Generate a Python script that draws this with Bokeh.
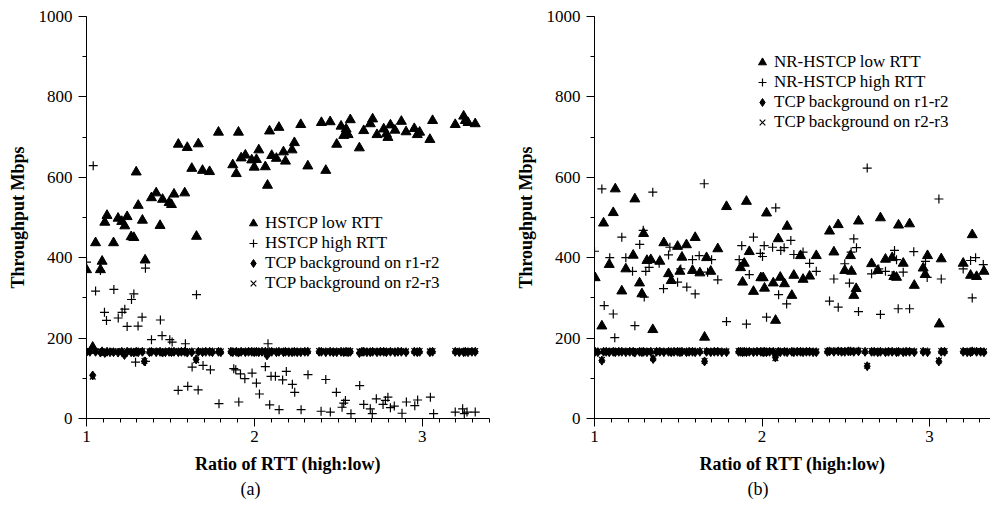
from bokeh.plotting import figure
from bokeh.models import Legend, LegendItem, Title, SingleIntervalTicker, Range1d
from bokeh.layouts import row
from bokeh.embed import file_html
from bokeh.resources import INLINE

FONT = "Liberation Serif"

# ---------------- panel (a): HSTCP ----------------
a_low = [(1.000,370),(1.037,177),(1.054,437),(1.083,370),(1.093,391),(1.109,488),(1.122,505),(1.161,437),
         (1.188,498),(1.210,490),(1.228,479),(1.242,502),(1.266,452),(1.282,450),(1.296,613),(1.308,530),
         (1.333,493),(1.349,394),(1.387,549),(1.415,561),(1.438,480),(1.453,545),(1.492,537),(1.506,532),
         (1.521,558),(1.547,682),(1.585,561),(1.600,674),(1.627,622),(1.655,453),(1.666,683),(1.691,617),
         (1.733,614),(1.786,712),(1.871,631),(1.892,609),(1.905,712),(1.921,648),(1.946,655),(1.984,643),
         (1.999,625),(2.012,644),(2.026,668),(2.065,626),(2.078,580),(2.090,715),(2.103,654),(2.131,647),
         (2.146,724),(2.173,663),(2.185,640),(2.224,668),(2.238,686),(2.276,731),(2.318,628),(2.399,736),
         (2.425,617),(2.451,738),(2.490,682),(2.516,727),(2.532,704),(2.546,720),(2.558,706),(2.571,743),
         (2.625,673),(2.651,716),(2.690,733),(2.704,745),(2.730,706),(2.770,720),(2.786,708),(2.795,699),
         (2.810,730),(2.837,717),(2.875,739),(2.903,713),(2.952,721),(2.970,706),(2.984,712),(3.045,694),
         (3.061,741),(3.196,731),(3.246,752),(3.256,741),(3.272,736),(3.315,733)]

a_high = [(1.000,389),(1.040,629),(1.054,317),(1.083,368),(1.107,264),(1.119,244),(1.163,321),(1.189,250),
          (1.212,264),(1.228,272),(1.242,229),(1.268,296),(1.282,310),(1.292,140),(1.307,230),(1.331,252),
          (1.351,374),(1.351,142),(1.387,196),(1.440,245),(1.450,206),(1.496,196),(1.510,190),(1.546,70),
          (1.589,186),(1.603,80),(1.629,128),(1.655,308),(1.665,71),(1.694,132),(1.738,121),(1.789,37),
          (1.877,124),(1.889,121),(1.907,41),(1.917,111),(1.943,99),(1.986,113),(2.012,88),(2.030,61),
          (2.065,129),(2.081,186),(2.091,34),(2.099,105),(2.125,105),(2.147,22),(2.168,96),(2.190,117),
          (2.226,85),(2.240,65),(2.278,22),(2.319,109),(2.397,18),(2.425,97),(2.452,16),(2.488,65),
          (2.522,28),(2.532,38),(2.542,45),(2.575,12),(2.627,82),(2.651,35),(2.690,24),(2.702,12),
          (2.726,49),(2.766,35),(2.780,45),(2.795,53),(2.810,27),(2.833,31),(2.879,13),(2.905,41),
          (2.955,32),(2.972,46),(3.048,53),(3.067,12),(3.196,16),(3.240,24),(3.250,12),(3.266,16),(3.315,16)]

# (ratio, TCP r1-r2, TCP r2-r3)
a_bg = [(1.000,165,167),(1.020,166,168),(1.037,107,104),(1.054,166,168),(1.083,164,167),(1.093,167,165),
        (1.109,163,168),(1.122,166,166),(1.140,165,167),(1.161,165,168),(1.188,164,166),(1.210,166,168),
        (1.226,158,160),(1.242,166,167),(1.266,165,168),(1.282,164,166),(1.296,166,168),(1.308,165,167),
        (1.333,166,168),(1.345,142,143),(1.375,165,167),(1.387,166,168),(1.415,165,167),(1.438,166,168),
        (1.453,164,166),(1.470,165,167),(1.492,166,168),(1.506,165,167),(1.521,166,168),(1.547,165,167),
        (1.565,166,168),(1.585,166,168),(1.600,164,167),(1.627,165,168),(1.653,147,145),(1.666,166,167),
        (1.691,165,168),(1.710,166,167),(1.733,166,167),(1.750,165,168),(1.786,166,168),(1.800,165,167),
        (1.860,166,168),(1.871,165,167),(1.892,166,168),(1.905,164,167),(1.921,166,168),(1.946,165,167),
        (1.965,166,168),(1.984,166,168),(1.999,165,167),(2.012,166,168),(2.026,165,167),(2.045,166,168),
        (2.065,166,168),(2.075,157,160),(2.090,165,167),(2.103,166,168),(2.131,165,167),(2.146,166,168),
        (2.173,165,167),(2.185,166,168),(2.205,165,167),(2.224,165,167),(2.238,166,168),(2.255,165,167),
        (2.276,165,167),(2.300,166,168),(2.318,166,168),(2.385,166,168),(2.399,166,168),(2.425,165,167),
        (2.451,166,168),(2.470,165,167),(2.490,165,167),(2.516,166,168),(2.532,165,167),(2.546,166,168),
        (2.558,165,167),(2.571,166,168),(2.625,163,167),(2.640,166,168),(2.651,166,168),(2.670,165,167),
        (2.690,165,167),(2.704,166,168),(2.730,165,167),(2.750,166,168),(2.770,166,168),(2.786,165,167),
        (2.810,166,168),(2.837,165,167),(2.855,166,168),(2.875,166,168),(2.903,165,167),(2.952,166,168),
        (2.970,165,167),(2.984,166,168),(3.045,165,167),(3.061,166,168),(3.196,166,168),(3.220,165,167),
        (3.246,165,167),(3.256,166,168),(3.272,165,167),(3.295,166,168),(3.315,166,168)]

# ---------------- panel (b): NR-HSTCP ----------------
b_low = [(1.004,350),(1.044,230),(1.054,486),(1.088,383),(1.112,512),(1.124,571),(1.163,317),(1.187,372),
         (1.231,406),(1.241,546),(1.269,337),(1.283,310),(1.293,460),(1.313,393),(1.336,395),(1.348,221),
         (1.390,391),(1.414,437),(1.442,360),(1.458,343),(1.496,428),(1.510,366),(1.522,401),(1.549,432),
         (1.585,368),(1.601,450),(1.629,362),(1.657,202),(1.669,400),(1.694,366),(1.736,422),(1.788,527),
         (1.872,375),(1.884,339),(1.894,386),(1.907,540),(1.924,415),(1.949,316),(1.993,350),(2.007,350),
         (2.015,324),(2.027,511),(2.067,337),(2.081,244),(2.097,447),(2.109,351),(2.134,335),(2.150,478),
         (2.178,306),(2.190,356),(2.230,405),(2.245,346),(2.284,354),(2.324,405),(2.403,466),(2.429,414),
         (2.455,482),(2.494,368),(2.528,405),(2.534,366),(2.548,306),(2.562,323),(2.576,491),(2.654,385),
         (2.691,368),(2.707,499),(2.737,396),(2.777,400),(2.787,353),(2.803,351),(2.815,481),(2.843,386),
         (2.881,484),(2.909,331),(2.962,374),(2.974,358),(2.988,405),(3.058,235),(3.070,397),(3.201,386),
         (3.245,356),(3.255,457),(3.281,353),(3.325,366)]

b_high = [(1.000,416),(1.044,571),(1.058,281),(1.091,400),(1.112,260),(1.121,201),(1.163,451),(1.187,400),
          (1.227,366),(1.241,231),(1.270,433),(1.291,468),(1.297,302),(1.306,366),(1.326,376),(1.348,563),
          (1.386,386),(1.412,323),(1.442,407),(1.450,426),(1.496,339),(1.515,372),(1.551,327),(1.585,395),
          (1.601,310),(1.625,405),(1.655,584),(1.675,364),(1.699,395),(1.736,345),(1.788,241),(1.864,395),
          (1.879,430),(1.907,235),(1.924,358),(1.949,451),(1.990,411),(2.003,403),(2.013,430),(2.027,252),
          (2.063,426),(2.082,524),(2.099,308),(2.112,418),(2.132,425),(2.147,285),(2.172,443),(2.190,408),
          (2.245,414),(2.284,386),(2.324,366),(2.403,292),(2.429,347),(2.455,277),(2.494,385),(2.522,337),
          (2.532,414),(2.548,447),(2.564,425),(2.576,266),(2.628,623),(2.654,360),(2.697,372),(2.707,259),
          (2.737,366),(2.777,356),(2.791,418),(2.803,395),(2.813,273),(2.843,364),(2.881,273),(2.906,415),
          (2.976,391),(2.986,351),(3.056,546),(3.070,347),(3.201,372),(3.245,393),(3.255,300),(3.275,400),
          (3.321,383)]

b_bg = [(1.004,166,168),(1.020,165,167),(1.044,144,146),(1.054,166,167),(1.070,166,168),(1.088,165,168),
        (1.112,166,168),(1.124,165,167),(1.145,166,168),(1.163,166,168),(1.187,165,167),(1.210,166,168),
        (1.231,166,168),(1.241,164,167),(1.269,166,168),(1.283,165,167),(1.293,166,168),(1.313,165,167),
        (1.336,166,168),(1.350,148,150),(1.370,166,168),(1.390,166,168),(1.414,165,167),(1.442,166,168),
        (1.458,165,167),(1.475,166,168),(1.496,166,168),(1.510,165,167),(1.522,166,168),(1.549,165,167),
        (1.565,166,168),(1.585,166,168),(1.601,165,167),(1.629,166,168),(1.657,142,143),(1.669,166,168),
        (1.694,165,167),(1.715,166,168),(1.736,166,168),(1.760,165,167),(1.788,165,167),(1.860,166,168),
        (1.872,166,168),(1.884,165,167),(1.894,166,168),(1.907,165,167),(1.924,166,168),(1.949,165,167),
        (1.970,166,168),(1.993,166,168),(2.007,165,167),(2.015,166,168),(2.027,165,167),(2.045,166,168),
        (2.067,166,168),(2.080,152,150),(2.097,166,168),(2.109,165,167),(2.134,166,168),(2.150,165,167),
        (2.178,166,168),(2.190,165,167),(2.210,166,168),(2.230,166,168),(2.245,165,167),(2.265,166,168),
        (2.284,166,168),(2.305,165,167),(2.324,165,167),(2.390,166,168),(2.403,167,169),(2.429,166,168),
        (2.455,167,169),(2.475,166,168),(2.494,166,168),(2.515,167,169),(2.528,167,169),(2.548,166,168),
        (2.576,167,169),(2.615,166,168),(2.628,130,131),(2.654,166,168),(2.670,166,168),(2.691,165,167),
        (2.707,166,168),(2.737,165,167),(2.755,166,168),(2.777,166,168),(2.803,165,167),(2.815,166,168),
        (2.843,165,167),(2.860,166,168),(2.881,166,168),(2.909,165,167),(2.962,166,168),(2.988,165,167),
        (3.056,142,144),(3.070,166,168),(3.090,166,168),(3.201,166,168),(3.225,165,167),(3.245,165,167),
        (3.255,167,169),(3.281,166,168),(3.305,166,168),(3.325,165,167)]

a_labels = ["HSTCP low RTT", "HSTCP high RTT", "TCP background on r1-r2", "TCP background on r2-r3"]
b_labels = ["NR-HSTCP low RTT", "NR-HSTCP high RTT", "TCP background on r1-r2", "TCP background on r2-r3"]
x_title = "Ratio of RTT (high:low)"
y_title = "Throughput Mbps"


def col(pts, i):
    return [p[i] for p in pts]


def make_panel(low, high, bg, labels, caption, width, x_end, border_left, border_right, leg_xy, cap_offset):
    p = figure(width=width, height=508, output_backend="svg", toolbar_location=None,
               x_range=Range1d(1.0, x_end), y_range=Range1d(0, 1000),
               min_border_left=border_left, min_border_right=border_right,
               min_border_top=16, min_border_bottom=90)
    p.outline_line_color = None
    p.xgrid.visible = False
    p.ygrid.visible = False
    p.background_fill_color = "white"
    p.border_fill_color = "white"

    r_bg12 = p.scatter(col(bg, 0), col(bg, 1), marker="diamond", size=9,
                       fill_color="black", line_color="black")
    r_bg23 = p.scatter(col(bg, 0), col(bg, 2), marker="x", size=8,
                       line_color="black", line_width=1.2)
    r_high = p.scatter(col(high, 0), col(high, 1), marker="cross", size=9,
                       line_color="black", line_width=1.2)
    r_low = p.scatter(col(low, 0), col(low, 1), marker="triangle", size=10,
                      fill_color="black", line_color="black")

    legend = Legend(items=[LegendItem(label=labels[0], renderers=[r_low]),
                           LegendItem(label=labels[1], renderers=[r_high]),
                           LegendItem(label=labels[2], renderers=[r_bg12]),
                           LegendItem(label=labels[3], renderers=[r_bg23])],
                    location=leg_xy, orientation="vertical",
                    glyph_width=20, glyph_height=20, label_height=20, label_standoff=2,
                    spacing=0, padding=0, margin=0,
                    border_line_color=None, background_fill_alpha=0,
                    label_text_font=FONT, label_text_font_size="17px", label_text_color="black")
    p.add_layout(legend, "center")

    for ax in (p.xaxis[0], p.yaxis[0]):
        ax.axis_line_color = "black"
        ax.axis_line_width = 1
        ax.major_tick_line_color = "black"
        ax.minor_tick_line_color = "black"
        ax.major_tick_in = 0
        ax.major_tick_out = 8
        ax.minor_tick_in = 0
        ax.minor_tick_out = 4
        ax.major_label_text_font = FONT
        ax.major_label_text_font_size = "17px"
        ax.major_label_text_color = "black"
        ax.axis_label_text_font = FONT
        ax.axis_label_text_font_size = "18px"
        ax.axis_label_text_font_style = "bold"
        ax.axis_label_text_color = "black"

    p.xaxis[0].ticker = SingleIntervalTicker(interval=1, num_minor_ticks=10)
    p.yaxis[0].ticker = SingleIntervalTicker(interval=200, num_minor_ticks=2)
    p.xaxis[0].axis_label = x_title
    p.yaxis[0].axis_label = y_title
    p.xaxis[0].major_label_standoff = 4
    p.xaxis[0].axis_label_standoff = 9
    p.yaxis[0].major_label_standoff = 6
    p.yaxis[0].axis_label_standoff = 8

    p.add_layout(Title(text=caption, align="left", offset=cap_offset, standoff=0,
                       text_font=FONT, text_font_size="18px", text_font_style="normal",
                       text_color="black"), "below")
    return p


p1 = make_panel(a_low, a_high, a_bg, a_labels, "(a)", 508, 3.4, 86, 19, (157, 125), 154)
p2 = make_panel(b_low, b_high, b_bg, b_labels, "(b)", 482, 3.364, 86, 0, (158, 286), 153)

layout = row(p1, p2)
open("out.html", "w").write(file_html(layout, INLINE))
